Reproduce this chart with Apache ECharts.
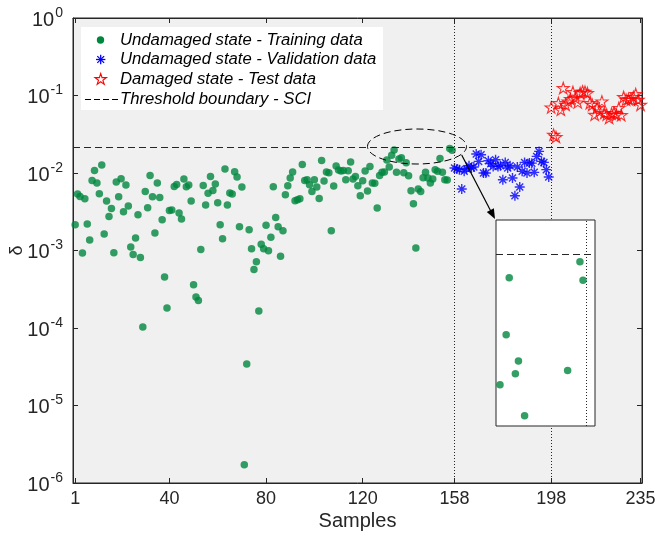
<!DOCTYPE html>
<html><head><meta charset="utf-8">
<script src="https://cdn.jsdelivr.net/npm/echarts@6/dist/echarts.min.js"></script>
<style>html,body{margin:0;padding:0;background:#fff}#c{width:655px;height:540px}</style>
</head><body><div id="c"></div>
<script>
// ---------------- data ----------------
const trainStart = 1;
const validStart = 158;
const testStart = 198;
const trainValues = [
0.00215,0.00536,0.00499,0.000929,0.00466,0.0022,0.00137,0.00803,0.0108,0.00743,
0.00541,0.0127,0.00163,0.00435,0.00275,0.00349,0.000937,0.00766,0.00494,0.00844,
0.00317,0.0070,0.00375,0.00111,0.000891,0.00145,0.0029,0.000815,0.000103,0.00579,
0.00356,0.00931,0.00494,0.00168,0.00743,0.00484,0.00249,0.000455,0.000181,0.00329,
0.00333,0.00671,0.00713,0.00305,0.00255,0.00838,0.00665,0.0070,0.00435,0.000362,
0.000251,0.000227,0.00103,0.00692,0.00386,0.00546,0.00904,0.00596,0.00721,0.00414,
0.00215,0.00142,0.01127,0.00386,0.00552,0.00536,0.0104,0.00887,0.00203,0.00659,
0.00000172,0.0000343,0.00185,0.00105,0.00057,0.000717,0.000166,0.0012,0.00105,0.00211,
0.000994,0.00148,0.00665,0.00267,0.00203,0.000844,0.0018,0.00525,0.00686,0.00861,
0.0103,0.00439,0.00452,0.00466,0.0129,0.00803,0.0082,0.00706,0.00579,0.0082,
0.00659,0.0047,0.01455,0.00788,0.0103,0.0101,0.0018,0.0068,0.0123,0.0109,
0.0106,0.0108,0.0082,0.0107,0.01387,0.00838,0.00904,0.00686,0.00509,0.00796,
0.0106,0.00586,0.01217,0.00743,0.0074,0.00353,0.00931,0.0102,0.0103,0.01475,
0.01194,0.01695,0.01987,0.0102,0.01521,0.01576,0.0101,0.01353,0.00923,0.00592,
0.00402,0.00108,0.00622,0.00579,0.0087,0.0102,0.00861,0.00743,0.00838,0.01104,
0.0105,0.01535,0.0102,0.0082,0.0081,0.02077,0.01973];
const validValues = [
0.0116,0.01127,0.01104,0.00622,0.0105,0.01135,0.0124,0.0116,0.01194,0.0176,
0.01412,0.0172,0.0100,0.0100,0.0144,0.0132,0.01217,0.01485,0.01217,0.0124,
0.0082,0.0137,0.0116,0.0124,0.00861,0.00509,0.01194,0.00659,0.0105,0.0137,
0.0100,0.01346,0.0134,0.0102,0.01637,0.019,0.01412,0.0137,0.01104,0.00887];
const testValues = [
0.0702,0.0312,0.0292,0.080,0.0656,0.125,0.076,0.0839,0.0901,0.111,
0.0929,0.0815,0.1077,0.113,0.112,0.1077,0.080,0.076,0.0565,0.069,
0.0624,0.0839,0.0595,0.0565,0.0513,0.0582,0.0595,0.0565,0.069,0.0560,
0.0957,0.0883,0.0901,0.0883,0.0957,0.1045,0.0883,0.076];
const threshold = 0.0212;
const boundaries = [158, 198];
const xTicks = [1, 40, 80, 120, 158, 198, 235];
const seriesNames = ['Undamaged state - Training data','Undamaged state - Validation data','Damaged state - Test data','Threshold boundary - SCI'];
const xName = 'Samples';
const yName = 'δ';

// ---------------- build ----------------
const pairs = (start, vals) => vals.map((v, i) => [start + i, v]);
const GREEN = '#00873e', BLUE = '#0000ff', RED = '#ff0000', AX = '#262626';
const tickFont = "'Liberation Sans',Arial,sans-serif";
const textFont = "'Liberation Sans',Arial,sans-serif";
const ASTER = 'path://M0,8.6L20,8.6L20,11.4L0,11.4Z M8.6,0L11.4,0L11.4,20L8.6,20Z M2,4L4,2L18,16L16,18Z M16,2L18,4L4,18L2,16Z';
const STAR_PTS = [[10,0],[12.245,6.91],[19.511,6.91],[13.633,11.18],[15.878,18.09],[10,13.82],[4.122,18.09],[6.367,11.18],[0.489,6.91],[7.755,6.91]];
const STAR = 'path://M' + STAR_PTS.map(p => p.join(',')).join('L') + 'Z';

const chart = echarts.init(document.getElementById('c'), null, {renderer: 'canvas'});
const thrLine = {type: [7, 4], color: AX, width: 1};
const dotLine = {type: [1, 2], color: AX, width: 1};

function asteriskIcon(cx, cy, r) {
  const d = r * 0.72;
  return [[-r, 0, r, 0], [0, -r, 0, r], [-d, -d, d, d], [d, -d, -d, d]].map(s => ({
    type: 'line', z: 101, shape: {x1: cx + s[0], y1: cy + s[1], x2: cx + s[2], y2: cy + s[3]},
    style: {stroke: BLUE, lineWidth: 1.3}}));
}
function starIcon(cx, cy, size) {
  const k = size / 20;
  return {type: 'polygon', z: 101,
    shape: {points: STAR_PTS.map(p => [cx + (p[0] - 10) * k, cy + (p[1] - 10) * k])},
    style: {fill: 'none', stroke: RED, lineWidth: 1.1}};
}
const legendFont = 'italic 16.7px ' + textFont;

const option = {
  animation: false,
  grid: [
    {left: 73, top: 18, width: 569, height: 465, show: true, backgroundColor: '#f0f0f0', borderWidth: 1, borderColor: AX, outerBoundsMode: 'none', containLabel: false},
    {left: 496, top: 220, width: 99, height: 206, show: true, backgroundColor: '#ffffff', borderWidth: 1, borderColor: AX, z: 10, outerBoundsMode: 'none', containLabel: false}
  ],
  xAxis: [
    {type: 'value', gridIndex: 0, min: 0.1, max: 235.6, position: 'bottom',
     name: xName, nameLocation: 'middle', nameGap: 28, nameMoveOverlap: false,
     nameTextStyle: {fontFamily: tickFont, fontSize: 20, color: AX},
     axisLine: {show: true, lineStyle: {color: AX}},
     axisTick: {show: true, inside: true, length: 5, customValues: xTicks, lineStyle: {color: AX}},
     axisLabel: {show: true, customValues: xTicks, margin: 7, fontFamily: tickFont, fontSize: 18, color: AX},
     splitLine: {show: false}},
    {type: 'value', gridIndex: 0, min: 0.1, max: 235.6, position: 'top',
     axisLine: {show: true, lineStyle: {color: AX}},
     axisTick: {show: true, inside: true, length: 5, customValues: xTicks, lineStyle: {color: AX}},
     axisLabel: {show: false}, splitLine: {show: false}},
    {type: 'value', gridIndex: 1, min: 128.7, max: 160.9, show: false}
  ],
  yAxis: [
    {type: 'log', gridIndex: 0, logBase: 10, min: 1e-6, max: 1, interval: 1, position: 'left',
     name: yName, nameLocation: 'middle', nameGap: 47, nameRotate: 90, nameMoveOverlap: false,
     nameTextStyle: {fontFamily: textFont, fontSize: 18, color: AX},
     axisLine: {show: true, lineStyle: {color: AX}},
     axisTick: {show: true, inside: true, length: 5, lineStyle: {color: AX}},
     minorTick: {show: false},
     axisLabel: {show: true, margin: 10, color: AX,
       formatter: v => '{b|10}{s|' + Math.round(Math.log10(v)) + '}',
       rich: {b: {fontFamily: tickFont, fontSize: 20, color: AX, verticalAlign: 'bottom'},
              s: {fontFamily: tickFont, fontSize: 14, color: AX, verticalAlign: 'top', padding: [0, 0, 10, 1]}}},
     splitLine: {show: false}},
    {type: 'log', gridIndex: 0, logBase: 10, min: 1e-6, max: 1, interval: 1, position: 'right',
     axisLine: {show: true, lineStyle: {color: AX}},
     axisTick: {show: true, inside: true, length: 5, lineStyle: {color: AX}},
     axisLabel: {show: false}, splitLine: {show: false}},
    {type: 'log', gridIndex: 1, logBase: 10, min: 0.01315, max: 0.02333, show: false}
  ],
  series: [
    {name: seriesNames[0], type: 'scatter', xAxisIndex: 0, yAxisIndex: 0,
     data: pairs(trainStart, trainValues), symbol: 'circle', symbolSize: 7.5,
     itemStyle: {color: GREEN},
     markLine: {silent: true, symbol: 'none', precision: 6, label: {show: false}, lineStyle: thrLine,
       data: [{yAxis: threshold}]}},
    {name: seriesNames[1], type: 'scatter', xAxisIndex: 0, yAxisIndex: 0,
     data: pairs(validStart, validValues), symbol: ASTER, symbolSize: 10, symbolKeepAspect: true,
     itemStyle: {color: BLUE},
     markLine: {silent: true, symbol: 'none', precision: 6, label: {show: false}, lineStyle: dotLine,
       data: boundaries.map(b => ({xAxis: b}))}},
    {name: seriesNames[2], type: 'scatter', xAxisIndex: 0, yAxisIndex: 0,
     data: pairs(testStart, testValues), symbol: STAR, symbolSize: 12, symbolKeepAspect: true,
     itemStyle: {color: 'rgba(255,255,255,0)', borderColor: RED, borderWidth: 1.1}},
    {name: 'inset', type: 'scatter', xAxisIndex: 2, yAxisIndex: 2, z: 12, clip: true,
     data: pairs(trainStart, trainValues), symbol: 'circle', symbolSize: 7.5,
     itemStyle: {color: GREEN},
     markLine: {silent: true, symbol: 'none', precision: 6, label: {show: false}, z: 11,
       data: [{yAxis: threshold, lineStyle: thrLine}, {xAxis: boundaries[0], lineStyle: dotLine}]}}
  ],
  graphic: [
    {type: 'rect', z: 100, shape: {x: 81, y: 27, width: 302, height: 83}, style: {fill: '#ffffff'}},
    {type: 'circle', z: 101, shape: {cx: 100.5, cy: 40, r: 3.7}, style: {fill: GREEN}},
    ...asteriskIcon(100.7, 59.5, 4.7),
    starIcon(100.7, 79.5, 12),
    {type: 'line', z: 101, shape: {x1: 85, y1: 99.5, x2: 118, y2: 99.5}, style: {stroke: '#000', lineWidth: 1, lineDash: [6, 3]}},
    {type: 'text', z: 101, x: 120, y: 40, style: {text: seriesNames[0], font: legendFont, fill: '#000', verticalAlign: 'middle'}},
    {type: 'text', z: 101, x: 120, y: 59.5, style: {text: seriesNames[1], font: legendFont, fill: '#000', verticalAlign: 'middle'}},
    {type: 'text', z: 101, x: 120, y: 79.5, style: {text: seriesNames[2], font: legendFont, fill: '#000', verticalAlign: 'middle'}},
    {type: 'text', z: 101, x: 120, y: 99.5, style: {text: seriesNames[3], font: legendFont, fill: '#000', verticalAlign: 'middle'}},
    {type: 'ellipse', z: 50, shape: {cx: 417, cy: 146.5, rx: 49.5, ry: 17.5}, style: {fill: 'none', stroke: '#000', lineWidth: 1, lineDash: [7, 4]}},
    {type: 'line', z: 50, shape: {x1: 461.7, y1: 155, x2: 491, y2: 211.5}, style: {stroke: '#000', lineWidth: 1.2}},
    {type: 'polygon', z: 50, shape: {points: [[495, 219], [486.8, 211.9], [493.9, 208.3]]}, style: {fill: '#000'}}
  ]
};
chart.setOption(option);
</script>
</body></html>
